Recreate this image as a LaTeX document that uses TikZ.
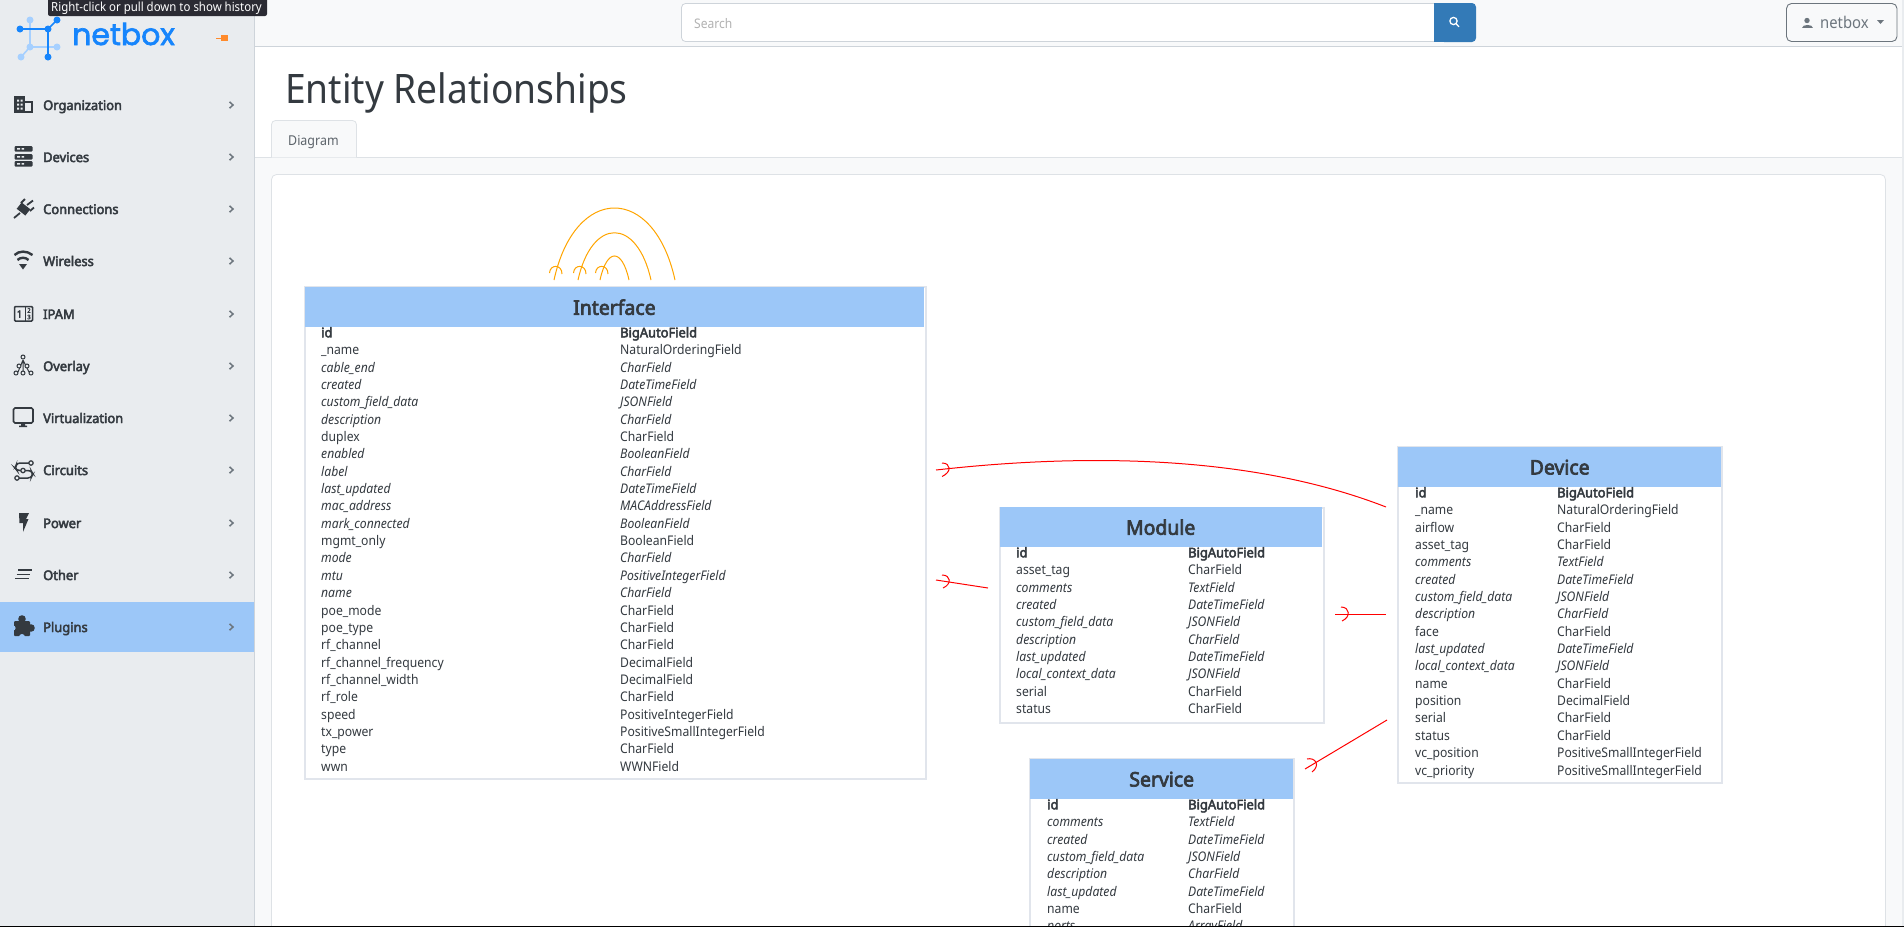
\documentclass[tikz,border=0pt]{standalone}
\usepackage{fontspec}
\setmainfont[FakeStretch=0.915,BoldFont={Noto Sans},BoldFeatures={FakeBold=3.5,FakeStretch=0.97}]{Noto Sans}
\newfontfamily\logofont[FakeBold=2.2]{Poppins}
\definecolor{ink}{HTML}{343A40}
\definecolor{side}{HTML}{E9ECEF}
\definecolor{band}{HTML}{9CC7F8}
\definecolor{pale}{HTML}{F8F9FA}
\definecolor{edge}{HTML}{DEE2E6}
\definecolor{edgeb}{HTML}{CED4DA}
\definecolor{tblb}{HTML}{E1E5EC}
\definecolor{mute}{HTML}{6C757D}
\definecolor{logod}{HTML}{1685FC}
\definecolor{logol}{HTML}{A6D0FF}
\definecolor{ora}{HTML}{FFA500}
\definecolor{srch}{HTML}{337AB7}
\definecolor{tipbg}{HTML}{2B2B33}
\definecolor{pinc}{HTML}{FF8A2B}
\newcommand\rfb{\bfseries}
\newcommand\rfi{\itshape}
\newcommand\rfn{\relax}
\tikzset{
  x=1pt,y=-1pt,
  rowtext/.style={anchor=base west,inner sep=0pt,text=ink},
  tablebox/.style={draw=tblb,line width=2pt,fill=white,anchor=north west,inner sep=0pt},
  headbox/.style={fill=band,anchor=north west,inner sep=0pt,minimum height=40pt,text=ink,font=\fontsize{20}{22}\selectfont\bfseries},
  menutext/.style={anchor=base west,inner sep=0pt,text=ink,font=\fontsize{13.3}{15}\selectfont\bfseries},
  chev/.style={draw=mute,line width=1.5pt},
  icon/.style={fill=ink,draw=none},
  iconl/.style={draw=ink,line width=1.3pt,fill=none},
  rel/.style={draw=red,line width=1pt},
  selfrel/.style={draw=ora,line width=1pt},
}
\newcommand\tablerows[5]{%
  \foreach \a/\b/\s [count=\i] in {#5}{%
    \pgfmathsetmacro\yy{#4+(\i-1)*17.36}
    \node[rowtext,font=\fontsize{13.3}{15}\selectfont\csname rf\s\endcsname] (#1n\i) at (#2,\yy) {\a};
    \node[rowtext,font=\fontsize{13.3}{15}\selectfont\csname rf\s\endcsname] (#1t\i) at (#3,\yy) {\b};
  }}
\newcommand\menuitem[3]{%
  \node[menutext] (menu#1) at (43,#2+5) {#3};
  \draw[chev] (229.5,#2-3.2) -- (233,#2) -- (229.5,#2+3.2);}
\begin{document}
\begin{tikzpicture}
\useasboundingbox (0,0) rectangle (1904,927);
\begin{scope}
\clip (0,0) rectangle (1904,926);
% page
\fill[white] (0,0) rectangle (1904,927);
\fill[pale] (254,0) rectangle (1904,46);
\fill[pale] (254,157) rectangle (1904,927);
\draw[edgeb,line width=.8pt] (254,46.7) -- (1904,46.7);
\draw[edge,line width=.8pt] (254,157) -- (1904,157);
\fill[side] (1902,0) rectangle (1904,927);
% tab
\draw[edge,line width=.8pt,fill=pale,rounded corners=4pt] (271.5,157.4) -- (271.5,120.5) -- (356.5,120.5) -- (356.5,157.4);
\node[anchor=base west,inner sep=0pt,text=mute!85!black,font=\fontsize{13.6}{15}\selectfont] (tabtext) at (288,145) {Diagram};
% card
\draw[edge,line width=.8pt,fill=white,rounded corners=5pt] (271.5,174.5) rectangle (1885.5,940);
% title
\node[anchor=base west,inner sep=0pt,text=ink,font=\fontsize{40.6}{44}\selectfont] (title) at (285,103) {Entity Relationships};
% sidebar
\fill[side] (0,0) rectangle (254,927);
\draw[edgeb,line width=.8pt] (254.5,0) -- (254.5,927);
\fill[band] (0,602) rectangle (254,652);
\menuitem{a}{105}{Organization}
\menuitem{b}{157}{Devices}
\menuitem{c}{209}{Connections}
\menuitem{d}{261}{Wireless}
\menuitem{e}{314}{IPAM}
\menuitem{f}{366}{Overlay}
\menuitem{g}{418}{Virtualization}
\menuitem{h}{470}{Circuits}
\menuitem{i}{523}{Power}
\menuitem{j}{575}{Other}
\menuitem{k}{627}{Plugins}
% icons
\draw[iconl] (15,97) rectangle (24,112) (24,102) rectangle (32,112);
\fill[icon] (15,97) rectangle (24,112);
\fill[side] (17,99.5) rectangle (19,101.5) (20.5,99.5) rectangle (22.5,101.5) (17,103.5) rectangle (19,105.5) (20.5,103.5) rectangle (22.5,105.5) (17,107.5) rectangle (19,109.5) (20.5,107.5) rectangle (22.5,109.5) (26,105) rectangle (28.5,107) (26,108) rectangle (28.5,110);
\foreach \yy in {146,154,161}{
  \fill[icon,rounded corners=1pt] (14.5,\yy) rectangle (32.5,\yy+5.5);
  \fill[side] (17,\yy+2) rectangle (20,\yy+3.5) (21.5,\yy+2) rectangle (24,\yy+3.5);}
\fill[icon,rotate around={-38:(23.5,209)}] (18,205) rectangle (29,213);
\draw[ink,line width=1.8pt] (14,218) -- (20,213) (27,205) -- (33,200.5) (21,203) -- (25,199) (30,211) -- (34,207.5);
\draw[ink,line width=2.4pt] (14.5,255) .. controls (19,250.5) and (27,250.5) .. (32.5,255);
\draw[ink,line width=2.4pt] (17.5,260) .. controls (20.5,257) and (25.5,257) .. (28.5,260);
\fill[icon] (19,264) -- (27,264) -- (23,269.5) -- cycle;
\draw[ink,line width=1.5pt,rounded corners=1pt,fill=none] (14.5,306.5) rectangle (32.5,321);
\draw[ink,line width=1pt] (25,307) -- (25,321);
\node[inner sep=0pt,text=ink,font=\fontsize{10}{10}\selectfont\bfseries] (ipam1) at (19.5,314) {1};
\node[inner sep=0pt,text=ink,font=\fontsize{6}{6}\selectfont\bfseries] (ipam2) at (29,310.5) {2};
\node[inner sep=0pt,text=ink,font=\fontsize{6}{6}\selectfont\bfseries] (ipam3) at (29,317) {3};
\draw[ink,line width=1pt] (23,360) -- (18,372) (23,360) -- (23,372) (23,360) -- (29,372);
\foreach \p/\q in {23/357,16/373,23/373,31/373,19/366,27/366}{\draw[ink,line width=1pt,fill=side] (\p,\q) circle (2pt);}
\draw[ink,line width=1.7pt,rounded corners=1.5pt] (13.5,408) rectangle (33,423);
\fill[icon] (21,423) rectangle (25,425.5) (19,425.5) rectangle (27,427);
\draw[ink,line width=1.5pt,rounded corners=3pt] (31,463) -- (17,463) -- (15,468) -- (17,470.5) -- (31,470.5) -- (33,474) -- (31,478) -- (19,478);
\foreach \p/\q in {31/463,23/470.5,17/478}{\draw[ink,line width=1.2pt,fill=side] (\p,\q) circle (2.2pt);}
\fill[icon] (19,513) -- (29,513) -- (26,519) -- (28.5,519) -- (23,532) -- (23,523) -- (19.5,523) -- cycle;
\draw[ink,line width=1.3pt] (18,570) -- (32,570) (16.5,574.5) -- (30,574.5) (15,578.5) -- (29,578.5);
\fill[icon,rounded corners=1pt] (14,621) rectangle (30,636);
\fill[icon] (22,619) circle (3.8pt) (31,628) circle (3.8pt);
\fill[band] (22,637) circle (3pt) (13,628) circle (2.6pt);
% logo
\draw[logol,line width=1.6pt] (30,20) -- (30,47) -- (57,47) (30,47) -- (21,57);
\draw[logod,line width=1.6pt] (20,29) -- (48,29) -- (57,20) (48,29) -- (48,57);
\foreach \p/\q [count=\i] in {30/20,30/47,57/47,21/57}{\fill[logol] (\p,\q) circle (3.5pt);}
\foreach \p/\q [count=\i] in {20/29,48/29,57/20,48/57}{\fill[logod] (\p,\q) circle (3.5pt);}
\node[anchor=base west,inner sep=0pt,text=logod,font=\logofont\fontsize{30}{30}\selectfont] (logotext) at (72,45) {netbox};
% pin
\draw[pinc,line width=1pt] (216,38) -- (222,38);
\fill[pinc] (221,35) rectangle (228,41);
% tooltip
\fill[tipbg,rounded corners=2pt] (48,-3) rectangle (267,16);
\node[anchor=base west,inner sep=0pt,text=white,font=\fontsize{12.5}{14}\selectfont] (tooltip) at (51,11) {Right-click or pull down to show history};
% search
\draw[edgeb,line width=.8pt,fill=white,rounded corners=4pt] (681.5,3.5) rectangle (1440,41.5);
\fill[srch,rounded corners=4pt] (1440,3) rectangle (1476,42);
\fill[srch] (1434,3) rectangle (1445,42);
\draw[white,line width=1.3pt] (1453.5,21) circle (3.6pt) (1456,23.6) -- (1459,26.8);
\node[anchor=base west,inner sep=0pt,text=black!30,font=\fontsize{13.2}{15}\selectfont] (searchtext) at (694,28) {Search};
% user button
\draw[mute,line width=.9pt,rounded corners=5pt] (1786.5,3.5) rectangle (1897,41.5);
\fill[mute] (1807,20.5) circle (2.7pt);
\fill[mute] (1801.5,28) .. controls (1801.5,24) and (1812.5,24) .. (1812.5,28) -- cycle;
\node[anchor=base west,inner sep=0pt,text=mute,font=\fontsize{16.2}{18}\selectfont] (usertext) at (1820,28.5) {netbox};
\fill[mute] (1877,20) -- (1884,20) -- (1880.5,24) -- cycle;
% Interface
\node[tablebox,minimum width=621pt,minimum height=492pt] (iface) at (304,286) {};
\node[headbox,minimum width=618.5pt] (ifaceh) at (305,287) {Interface};
\tablerows{if}{321}{620}{337.3}{id/BigAutoField/b,\_name/NaturalOrderingField/n,cable\_end/CharField/i,created/DateTimeField/i,custom\_field\_data/JSONField/i,description/CharField/i,duplex/CharField/n,enabled/BooleanField/i,label/CharField/i,last\_updated/DateTimeField/i,mac\_address/MACAddressField/i,mark\_connected/BooleanField/i,mgmt\_only/BooleanField/n,mode/CharField/i,mtu/PositiveIntegerField/i,name/CharField/i,poe\_mode/CharField/n,poe\_type/CharField/n,rf\_channel/CharField/n,rf\_channel\_frequency/DecimalField/n,rf\_channel\_width/DecimalField/n,rf\_role/CharField/n,speed/PositiveIntegerField/n,tx\_power/PositiveSmallIntegerField/n,type/CharField/n,wwn/WWNField/n}
% Module
\node[tablebox,minimum width=324pt,minimum height=215pt] (module) at (998.5,506.5) {};
\node[headbox,minimum width=322pt] (moduleh) at (999.5,507) {Module};
\tablerows{mo}{1016}{1188}{557.3}{id/BigAutoField/b,asset\_tag/CharField/n,comments/TextField/i,created/DateTimeField/i,custom\_field\_data/JSONField/i,description/CharField/i,last\_updated/DateTimeField/i,local\_context\_data/JSONField/i,serial/CharField/n,status/CharField/n}
% Device
\node[tablebox,minimum width=324pt,minimum height=336pt] (device) at (1397,446) {};
\node[headbox,minimum width=323pt] (deviceh) at (1398,447) {Device};
\tablerows{de}{1415}{1557}{497.3}{id/BigAutoField/b,\_name/NaturalOrderingField/n,airflow/CharField/n,asset\_tag/CharField/n,comments/TextField/i,created/DateTimeField/i,custom\_field\_data/JSONField/i,description/CharField/i,face/CharField/n,last\_updated/DateTimeField/i,local\_context\_data/JSONField/i,name/CharField/n,position/DecimalField/n,serial/CharField/n,status/CharField/n,vc\_position/PositiveSmallIntegerField/n,vc\_priority/PositiveSmallIntegerField/n}
% Service
\node[tablebox,minimum width=264pt,minimum height=200pt] (service) at (1029,757.5) {};
\node[headbox,minimum width=263pt] (serviceh) at (1030,759) {Service};
\tablerows{se}{1047}{1188}{809.3}{id/BigAutoField/b,comments/TextField/i,created/DateTimeField/i,custom\_field\_data/JSONField/i,description/CharField/i,last\_updated/DateTimeField/i,name/CharField/n,ports/ArrayField/i}
% connectors
\coordinate (r1a) at (936,470); \coordinate (r1b) at (1386,507);
\coordinate (r2a) at (936,580); \coordinate (r2b) at (988,588);
\coordinate (r3a) at (1335,614); \coordinate (r3b) at (1386,614);
\coordinate (r4a) at (1305,769); \coordinate (r4b) at (1387,720);
\draw[rel] (r1a) .. controls (1060,456) and (1240,450) .. (r1b);
\draw[rel] (r2a) -- (r2b);
\draw[rel] (r3a) -- (r3b);
\draw[rel] (r4a) -- (r4b);
\draw[rel] (942,463) .. controls (951,463) and (952,472) .. (942,476.5);
\draw[rel] (942,575) .. controls (951,575) and (952,584) .. (943,588);
\draw[rel] (1341,607) .. controls (1350,607) and (1351,617) .. (1342,621);
\draw[rel] (1307,759) .. controls (1315,757) and (1321,765) .. (1312,772);
\coordinate (s1a) at (554,280); \coordinate (s1b) at (675,280);
\coordinate (s2a) at (578,280); \coordinate (s2b) at (651,280);
\coordinate (s3a) at (600,280); \coordinate (s3b) at (629,280);
\draw[selfrel] (s1a) .. controls (575,184) and (654,184) .. (s1b);
\draw[selfrel] (s2a) .. controls (592,217) and (637,217) .. (s2b);
\draw[selfrel] (s3a) .. controls (607,248) and (622,248) .. (s3b);
\draw[selfrel] (549.5,273) .. controls (550,264) and (562,264) .. (562,274);
\draw[selfrel] (573.5,273) .. controls (574,264) and (586,264) .. (586,274);
\draw[selfrel] (595.5,273) .. controls (596,264) and (608,264) .. (608,274);
\end{scope}
\fill[black] (0,926) rectangle (1904,927);
\end{tikzpicture}
\end{document}
